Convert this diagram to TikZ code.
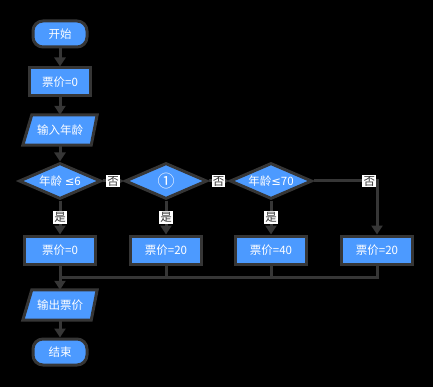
\documentclass[tikz,border=0pt]{standalone}
\usepackage{fontspec}
\setmainfont{Noto Sans CJK SC}
\newfontfamily\symfont{DejaVu Sans}
\usetikzlibrary{shapes.geometric,arrows.meta,calc}
\definecolor{nodeblue}{HTML}{4C9AFF}
\definecolor{linegray}{HTML}{363636}
\begin{document}
\begin{tikzpicture}[x=1pt,y=-1pt,
  every node/.style={font=\fontsize{11.5}{13}\selectfont},
  box/.style={rectangle, fill=nodeblue, draw=linegray, line width=3pt, text=white, minimum width=71pt, minimum height=28pt, inner sep=0pt},
  term/.style={box, rounded corners=10pt, minimum width=54pt, minimum height=26pt},
  iobox/.style={rectangle, minimum width=66pt, minimum height=30pt, inner sep=0pt, text=white},
  dec/.style={diamond, fill=nodeblue, draw=linegray, line width=3pt, text=white, minimum width=82pt, minimum height=36pt, aspect=2.3, inner sep=0pt},
  conn/.style={draw=linegray, line width=3pt},
  arr/.style={conn, -{Triangle[width=11pt,length=9pt]}},
  lab/.style={fill=white, text=linegray, inner sep=1.2pt, font=\fontsize{11.5}{13}\selectfont}
]
\fill[black] (0,0) rectangle (433,387);
\useasboundingbox (0,0) rectangle (433,387);

\node[term] (start) at (60,34) {开始};
\node[box, minimum width=61pt] (p0) at (60,82) {票价=0};
\node[iobox] (in) at (60,130) {};
\node[iobox] (out) at (60,305) {};
\foreach \n in {in,out}{
  \filldraw[fill=nodeblue, draw=linegray, line width=3pt]
    ($(\n.north west)+(5,0)$) -- ($(\n.north east)+(4,0)$) -- ($(\n.south east)+(-2,0)$) -- ($(\n.south west)+(-4,0)$) -- cycle;
}
\node[text=white] at (in) {输入年龄};
\node[text=white] at (out) {输出票价};
\node[dec] (d1) at (60,181) {年龄 {\symfont ≤}6};
\node[dec] (d2) at (166,181) {\fontsize{17}{17}\selectfont ①};
\node[dec] (d3) at (271,181) {年龄{\symfont ≤}70};
\node[box] (r1) at (60,250) {票价=0};
\node[box] (r2) at (166,250) {票价=20};
\node[box] (r3) at (271,250) {票价=40};
\node[box] (r4) at (377,250) {票价=20};
\node[term] (end) at (60,352) {结束};
\coordinate (m) at (60,277);

\draw[arr] (start) -- (p0);
\draw[arr] (p0) -- (in);
\draw[arr] (in) -- (d1);
\draw[arr] (d1) -- node[lab]{否} (d2);
\draw[arr] (d2) -- node[lab]{否} (d3);
\draw[arr] (d3.east) -| node[lab, pos=0.44]{否} (r4.north);
\draw[arr] (d1) -- node[lab]{是} (r1);
\draw[arr] (d2) -- node[lab]{是} (r2);
\draw[arr] (d3) -- node[lab]{是} (r3);
\draw[conn] (r2.south) |- (m);
\draw[conn] (r3.south) |- (m);
\draw[conn] (r4.south) |- (m);
\draw[arr] (r1) -- (out.north);
\draw[arr] (out) -- (end);
\end{tikzpicture}
\end{document}
